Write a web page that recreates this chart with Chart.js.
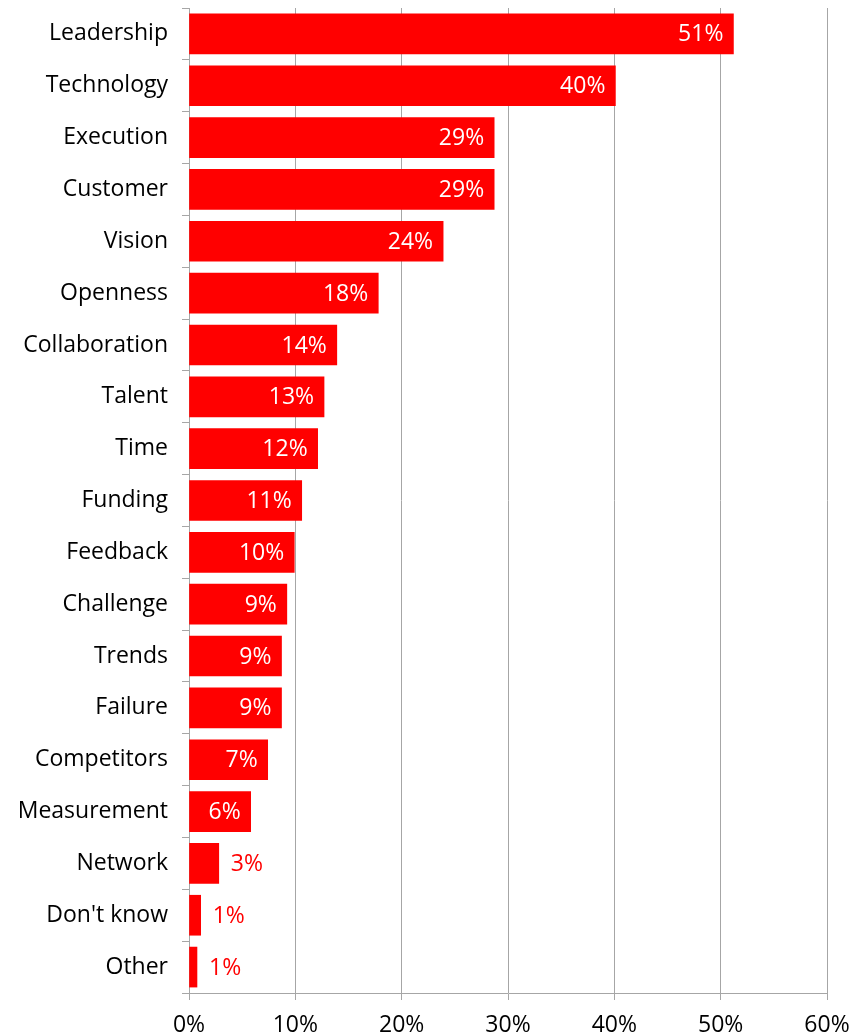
<!DOCTYPE html>
<html>
<head>
<meta charset="utf-8">
<script src="https://cdn.jsdelivr.net/npm/chart.js@4/dist/chart.umd.min.js"></script>
<style>
  html, body { margin: 0; padding: 0; background: #fff; overflow: hidden; }
  #chart { display: block; }
</style>
</head>
<body>
<canvas id="chart" width="867" height="1060"></canvas>
<script>
'use strict'

const categories = ['Leadership', 'Technology', 'Execution', 'Customer', 'Vision', 'Openness',
    'Collaboration', 'Talent', 'Time', 'Funding', 'Feedback', 'Challenge', 'Trends', 'Failure',
    'Competitors', 'Measurement', 'Network', "Don't know", 'Other']
const shares = [51.2, 40.1, 28.7, 28.7, 23.9, 17.8, 13.9, 12.7, 12.1, 10.6, 9.9, 9.2, 8.7, 8.7,
    7.4, 5.8, 2.8, 1.1, 0.75]
const xTicks = [0, 10, 20, 30, 40, 50, 60]

const RED = '#ff0000'
const GRID = '#a6a6a6'
const FONT = { family: '"Open Sans", sans-serif', size: 23 }

// value labels: white inside the long bars, red just past the short ones
const valueLabels = {
    id: 'valueLabels',
    afterDatasetsDraw(chart) {
        const ctx = chart.ctx
        const meta = chart.getDatasetMeta(0)
        ctx.save()
        ctx.font = FONT.size + 'px ' + FONT.family
        ctx.textBaseline = 'middle'
        meta.data.forEach((bar, i) => {
            const v = shares[i]
            const text = Math.round(v) + '%'
            if (v >= 5) {
                ctx.fillStyle = '#ffffff'
                ctx.textAlign = 'right'
                ctx.fillText(text, bar.x - 10, bar.y + 1)
            } else {
                ctx.fillStyle = RED
                ctx.textAlign = 'left'
                ctx.fillText(text, bar.x + 12, bar.y + 1)
            }
        })
        ctx.restore()
    }
}

new Chart(document.getElementById('chart'), {
    type: 'bar',
    data: {
        labels: categories,
        datasets: [{
            data: shares,
            backgroundColor: RED,
            borderWidth: 0,
            barThickness: 40
        }]
    },
    options: {
        indexAxis: 'y',
        responsive: false,
        animation: false,
        layout: { padding: { top: 8, right: 40, left: 0, bottom: 0 } },
        plugins: {
            legend: { display: false },
            tooltip: { enabled: false }
        },
        scales: {
            x: {
                min: 0,
                max: 60,
                afterBuildTicks: scale => { scale.ticks = xTicks.map(v => ({ value: v })) },
                afterFit: scale => { scale.height = 67 },
                ticks: {
                    color: '#000',
                    font: FONT,
                    padding: 12,
                    maxRotation: 0,
                    callback: v => v + '%'
                },
                grid: { color: GRID, lineWidth: 1, tickLength: 7 },
                border: { color: GRID, width: 1 }
            },
            y: {
                afterFit: scale => {
                    scale.width = 189
                    scale.paddingTop = 0
                    scale.paddingBottom = 0
                },
                ticks: {
                    color: '#000',
                    font: FONT,
                    padding: 14
                },
                grid: { drawOnChartArea: false, color: GRID, tickLength: 7, offset: true },
                border: { color: GRID, width: 1 }
            }
        }
    },
    plugins: [valueLabels]
})
</script>
</body>
</html>
